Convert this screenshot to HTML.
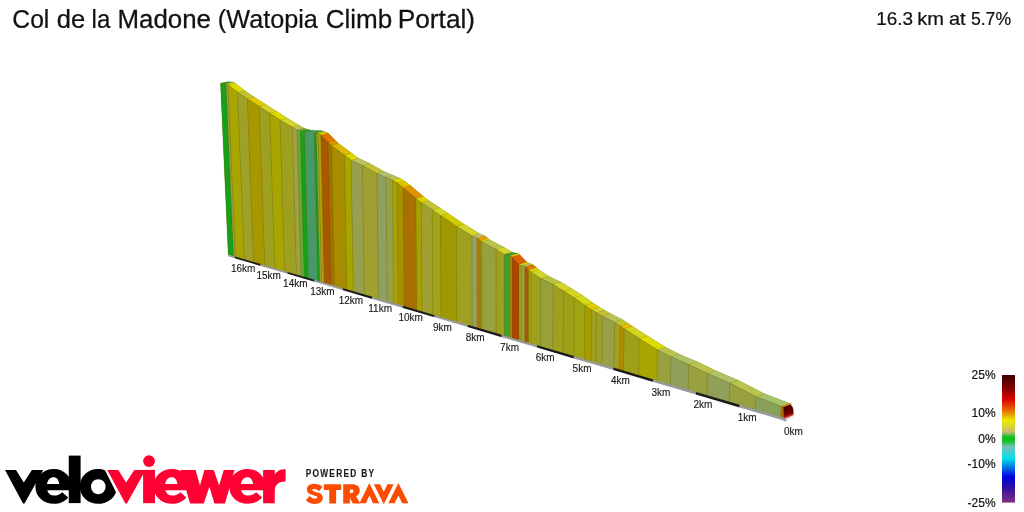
<!DOCTYPE html>
<html><head><meta charset="utf-8"><title>Col de la Madone (Watopia Climb Portal)</title>
<style>
html,body{margin:0;padding:0;background:#fff;}
body{width:1024px;height:512px;overflow:hidden;position:relative;font-family:"Liberation Sans",sans-serif;}
svg{position:absolute;left:0;top:0;will-change:transform;transform:translateZ(0);}
text{font-family:"Liberation Sans",sans-serif;}
.km text{font-size:10px;fill:#161616;stroke:#161616;stroke-width:0.12;}
.lg text{font-size:12px;fill:#111;stroke:#111;stroke-width:0.18;text-anchor:end;}
.seg polygon{stroke:rgba(60,70,0,0.24);stroke-width:0.5;stroke-linejoin:round;}
.top polygon{stroke:rgba(70,80,0,0.2);stroke-width:0.45;stroke-linejoin:round;}
</style></head><body>
<svg width="1024" height="512" viewBox="0 0 1024 512">
<defs>
<linearGradient id="lg" x1="0" y1="0" x2="0" y2="1">
<stop offset="0" stop-color="#3c0000"/>
<stop offset="0.10" stop-color="#800000"/>
<stop offset="0.19" stop-color="#dc0000"/>
<stop offset="0.28" stop-color="#e87000"/>
<stop offset="0.353" stop-color="#eaea00"/>
<stop offset="0.40" stop-color="#dcd830"/>
<stop offset="0.447" stop-color="#c8b878"/>
<stop offset="0.485" stop-color="#10c020"/>
<stop offset="0.512" stop-color="#10c020"/>
<stop offset="0.565" stop-color="#74c0bc"/>
<stop offset="0.654" stop-color="#00e0e8"/>
<stop offset="0.80" stop-color="#0000e0"/>
<stop offset="0.885" stop-color="#3010a0"/>
<stop offset="1" stop-color="#803080"/>
</linearGradient>
<linearGradient id="cap" x1="0" y1="0" x2="0.25" y2="1">
<stop offset="0" stop-color="#420000"/>
<stop offset="0.58" stop-color="#5e0000"/>
<stop offset="0.76" stop-color="#900000"/>
<stop offset="0.87" stop-color="#c02828"/>
<stop offset="1" stop-color="#f0e2e2"/>
</linearGradient>
</defs>
<g font-size="26.2" fill="#111" stroke="#111" stroke-width="0.25"><text transform="translate(12.32,27.55) scale(0.9416,1)">Col</text><text transform="translate(56.66,27.55) scale(0.9766,1)">de</text><text transform="translate(91.59,27.55) scale(0.9169,1)">la</text><text transform="translate(117.42,27.55) scale(0.9886,1)">Madone</text><text transform="translate(217.85,27.55) scale(0.9631,1)">(Watopia</text><text transform="translate(325.74,27.55) scale(0.9945,1)">Climb</text><text transform="translate(397.74,27.55) scale(1.0026,1)">Portal)</text></g>
<g font-size="17.6" fill="#111" stroke="#111" stroke-width="0.2"><text transform="translate(876.25,24.7) scale(1.078,1)">16.3</text><text transform="translate(917.26,24.7) scale(1.1407,1)">km</text><text transform="translate(948.97,24.7) scale(1.1368,1)">at</text><text transform="translate(970.9,24.7) scale(1.0018,1)">5.7%</text></g>
<g class="top">
<polygon points="220.5,83.3 226.1,83.6 228,84.7 237.6,92.2 247.4,98.9 259.25,106.4 269.75,113.25 280.1,120.1 292.4,127.25 297.1,130 300.4,131.3 304.6,132 314.3,132.5 316.5,133 318.25,133.8 320.9,134.9 328.2,142.3 331.6,145.5 344.5,155.25 351.25,160.25 362.5,165.5 377,173.6 386,177.4 392.5,180.25 397,183 403.2,187.7 416,198.6 421.4,202.75 432.25,209.9 440.5,215.5 456.6,226.4 472.1,236 477.1,238 480.5,240.75 482,242 496.1,249.5 504.3,254.4 510.2,255.75 512,256.9 519,264.5 521.4,265.6 524.9,266.7 528.6,270 531.1,272 540.6,278.5 553.1,284.5 563.5,291 574.4,297.9 585,305.4 591.5,309.75 596.45,312.6 602.4,316.1 614.5,322.25 620.1,326 624.25,328.75 639.25,338.5 657.4,349.9 671,356.8 688.75,364.4 707.5,373.5 729.75,383.1 756,396.7 781.2,406.3 783.3,407 792,404.1 789.89,403.4 764.62,393.86 738.29,380.32 715.97,370.77 697.17,361.72 679.36,354.16 665.72,347.29 647.52,335.93 632.47,326.22 628.31,323.48 622.69,319.74 610.55,313.62 604.59,310.13 599.62,307.29 593.1,302.96 582.47,295.48 571.54,288.61 561.11,282.13 548.57,276.16 539.04,269.68 536.53,267.69 532.82,264.4 529.31,263.3 526.9,262.21 519.88,254.63 518.08,253.48 512.16,252.14 503.93,247.26 489.79,239.8 488.29,238.55 484.88,235.81 479.86,233.82 464.31,224.25 448.17,213.39 439.89,207.81 429.01,200.68 423.59,196.55 410.75,185.68 404.53,180.99 400.02,178.25 393.5,175.42 384.47,171.64 369.93,163.57 358.65,158.35 351.88,153.36 338.94,143.64 335.53,140.45 328.2,133.07 325.55,131.97 323.79,131.18 321.58,130.68 311.86,130.2 307.64,129.51 304.33,128.22 299.62,125.48 287.28,118.36 276.9,111.54 266.37,104.71 254.48,97.24 244.65,90.56 235.02,83.08 233.12,81.99 227.5,81.7" fill="#b4b414" stroke="none"/>
<polygon points="220.5,83.3 227.5,81.7 233.12,81.99 226.1,83.6" fill="#18a018"/>
<polygon points="226.1,83.6 233.12,81.99 235.02,83.08 228,84.7" fill="#c3be4e"/>
<polygon points="228,84.7 235.02,83.08 244.65,90.56 237.6,92.2" fill="#dfda00"/>
<polygon points="237.6,92.2 244.65,90.56 254.48,97.24 247.4,98.9" fill="#c3c330"/>
<polygon points="247.4,98.9 254.48,97.24 266.37,104.71 259.25,106.4" fill="#dfca00"/>
<polygon points="259.25,106.4 266.37,104.71 276.9,111.54 269.75,113.25" fill="#d4d42a"/>
<polygon points="269.75,113.25 276.9,111.54 287.28,118.36 280.1,120.1" fill="#dfda00"/>
<polygon points="280.1,120.1 287.28,118.36 299.62,125.48 292.4,127.25" fill="#d4d42a"/>
<polygon points="292.4,127.25 299.62,125.48 304.33,128.22 297.1,130" fill="#c3c357"/>
<polygon points="297.1,130 304.33,128.22 307.64,129.51 300.4,131.3" fill="#68a838"/>
<polygon points="300.4,131.3 307.64,129.51 311.86,130.2 304.6,132" fill="#18a018"/>
<polygon points="304.6,132 311.86,130.2 321.58,130.68 314.3,132.5" fill="#489868"/>
<polygon points="314.3,132.5 321.58,130.68 323.79,131.18 316.5,133" fill="#18a018"/>
<polygon points="316.5,133 323.79,131.18 325.55,131.97 318.25,133.8" fill="#c3c34e"/>
<polygon points="318.25,133.8 325.55,131.97 328.2,133.07 320.9,134.9" fill="#ead400"/>
<polygon points="320.9,134.9 328.2,133.07 335.53,140.45 328.2,142.3" fill="#df7500"/>
<polygon points="328.2,142.3 335.53,140.45 338.94,143.64 331.6,145.5" fill="#df9400"/>
<polygon points="331.6,145.5 338.94,143.64 351.88,153.36 344.5,155.25" fill="#dfba00"/>
<polygon points="344.5,155.25 351.88,153.36 358.65,158.35 351.25,160.25" fill="#dfda00"/>
<polygon points="351.25,160.25 358.65,158.35 369.93,163.57 362.5,165.5" fill="#b9c361"/>
<polygon points="362.5,165.5 369.93,163.57 384.47,171.64 377,173.6" fill="#c3c33a"/>
<polygon points="377,173.6 384.47,171.64 393.5,175.42 386,177.4" fill="#afc375"/>
<polygon points="386,177.4 393.5,175.42 400.02,178.25 392.5,180.25" fill="#b9c357"/>
<polygon points="392.5,180.25 400.02,178.25 404.53,180.99 397,183" fill="#dfda00"/>
<polygon points="397,183 404.53,180.99 410.75,185.68 403.2,187.7" fill="#dfbf00"/>
<polygon points="403.2,187.7 410.75,185.68 423.59,196.55 416,198.6" fill="#df9400"/>
<polygon points="416,198.6 423.59,196.55 429.01,200.68 421.4,202.75" fill="#dfd400"/>
<polygon points="421.4,202.75 429.01,200.68 439.89,207.81 432.25,209.9" fill="#c3c33a"/>
<polygon points="432.25,209.9 439.89,207.81 448.17,213.39 440.5,215.5" fill="#d4da1f"/>
<polygon points="440.5,215.5 448.17,213.39 464.31,224.25 456.6,226.4" fill="#d4ca00"/>
<polygon points="456.6,226.4 464.31,224.25 479.86,233.82 472.1,236" fill="#d4d42a"/>
<polygon points="472.1,236 479.86,233.82 484.88,235.81 477.1,238" fill="#b9c375"/>
<polygon points="477.1,238 484.88,235.81 488.29,238.55 480.5,240.75" fill="#ea9f00"/>
<polygon points="480.5,240.75 488.29,238.55 489.79,239.8 482,242" fill="#dfd400"/>
<polygon points="482,242 489.79,239.8 503.93,247.26 496.1,249.5" fill="#b9c34e"/>
<polygon points="496.1,249.5 503.93,247.26 512.16,252.14 504.3,254.4" fill="#d4d42a"/>
<polygon points="504.3,254.4 512.16,252.14 518.08,253.48 510.2,255.75" fill="#40a030"/>
<polygon points="510.2,255.75 518.08,253.48 519.88,254.63 512,256.9" fill="#eabf00"/>
<polygon points="512,256.9 519.88,254.63 526.9,262.21 519,264.5" fill="#df5f00"/>
<polygon points="519,264.5 526.9,262.21 529.31,263.3 521.4,265.6" fill="#dfd400"/>
<polygon points="521.4,265.6 529.31,263.3 532.82,264.4 524.9,266.7" fill="#b9c361"/>
<polygon points="524.9,266.7 532.82,264.4 536.53,267.69 528.6,270" fill="#df7500"/>
<polygon points="528.6,270 536.53,267.69 539.04,269.68 531.1,272" fill="#dfd400"/>
<polygon points="531.1,272 539.04,269.68 548.57,276.16 540.6,278.5" fill="#d4d42a"/>
<polygon points="540.6,278.5 548.57,276.16 561.11,282.13 553.1,284.5" fill="#b9c344"/>
<polygon points="553.1,284.5 561.11,282.13 571.54,288.61 563.5,291" fill="#d4d42a"/>
<polygon points="563.5,291 571.54,288.61 582.47,295.48 574.4,297.9" fill="#d4d41f"/>
<polygon points="574.4,297.9 582.47,295.48 593.1,302.96 585,305.4" fill="#d4da15"/>
<polygon points="585,305.4 593.1,302.96 599.62,307.29 591.5,309.75" fill="#dfcf00"/>
<polygon points="591.5,309.75 599.62,307.29 604.59,310.13 596.45,312.6" fill="#d4d42a"/>
<polygon points="596.45,312.6 604.59,310.13 610.55,313.62 602.4,316.1" fill="#c3c330"/>
<polygon points="602.4,316.1 610.55,313.62 622.69,319.74 614.5,322.25" fill="#b9c357"/>
<polygon points="614.5,322.25 622.69,319.74 628.31,323.48 620.1,326" fill="#c3c330"/>
<polygon points="620.1,326 628.31,323.48 632.47,326.22 624.25,328.75" fill="#eaba00"/>
<polygon points="624.25,328.75 632.47,326.22 647.52,335.93 639.25,338.5" fill="#d4d41f"/>
<polygon points="639.25,338.5 647.52,335.93 665.72,347.29 657.4,349.9" fill="#dfda00"/>
<polygon points="657.4,349.9 665.72,347.29 679.36,354.16 671,356.8" fill="#b9c34e"/>
<polygon points="671,356.8 679.36,354.16 697.17,361.72 688.75,364.4" fill="#afc36b"/>
<polygon points="688.75,364.4 697.17,361.72 715.97,370.77 707.5,373.5" fill="#b9c34e"/>
<polygon points="707.5,373.5 715.97,370.77 738.29,380.32 729.75,383.1" fill="#afc36b"/>
<polygon points="729.75,383.1 738.29,380.32 764.62,393.86 756,396.7" fill="#b9c34e"/>
<polygon points="756,396.7 764.62,393.86 789.89,403.4 781.2,406.3" fill="#a5c36b"/>
<polygon points="781.2,406.3 789.89,403.4 792,404.1 783.3,407" fill="#ff8a00"/>
</g>
<g class="seg">
<polygon points="220.5,83.3 226.1,83.6 228,84.7 237.6,92.2 247.4,98.9 259.25,106.4 269.75,113.25 280.1,120.1 292.4,127.25 297.1,130 300.4,131.3 304.6,132 314.3,132.5 316.5,133 318.25,133.8 320.9,134.9 328.2,142.3 331.6,145.5 344.5,155.25 351.25,160.25 362.5,165.5 377,173.6 386,177.4 392.5,180.25 397,183 403.2,187.7 416,198.6 421.4,202.75 432.25,209.9 440.5,215.5 456.6,226.4 472.1,236 477.1,238 480.5,240.75 482,242 496.1,249.5 504.3,254.4 510.2,255.75 512,256.9 519,264.5 521.4,265.6 524.9,266.7 528.6,270 531.1,272 540.6,278.5 553.1,284.5 563.5,291 574.4,297.9 585,305.4 591.5,309.75 596.45,312.6 602.4,316.1 614.5,322.25 620.1,326 624.25,328.75 639.25,338.5 657.4,349.9 671,356.8 688.75,364.4 707.5,373.5 729.75,383.1 756,396.7 781.2,406.3 783.3,407 782.87,417.74 228.26,254.85" fill="#8c8c14" stroke="none"/>
<polygon points="220.5,83.3 226.1,83.6 233.66,256.43 228.26,254.85" fill="#18a018"/>
<polygon points="226.1,83.6 228,84.7 235.45,256.96 233.66,256.43" fill="#a09c40"/>
<polygon points="228,84.7 237.6,92.2 244.43,259.6 235.45,256.96" fill="#a8a400"/>
<polygon points="237.6,92.2 247.4,98.9 253.67,262.31 244.43,259.6" fill="#a0a028"/>
<polygon points="247.4,98.9 259.25,106.4 264.9,265.61 253.67,262.31" fill="#a89800"/>
<polygon points="259.25,106.4 269.75,113.25 274.88,268.54 264.9,265.61" fill="#a0a020"/>
<polygon points="269.75,113.25 280.1,120.1 284.75,271.44 274.88,268.54" fill="#a8a400"/>
<polygon points="280.1,120.1 292.4,127.25 296.55,274.9 284.75,271.44" fill="#a0a020"/>
<polygon points="292.4,127.25 297.1,130 301.06,276.23 296.55,274.9" fill="#a0a048"/>
<polygon points="297.1,130 300.4,131.3 304.25,277.17 301.06,276.23" fill="#68a838"/>
<polygon points="300.4,131.3 304.6,132 308.34,278.37 304.25,277.17" fill="#18a018"/>
<polygon points="304.6,132 314.3,132.5 317.81,281.15 308.34,278.37" fill="#489868"/>
<polygon points="314.3,132.5 316.5,133 319.95,281.78 317.81,281.15" fill="#18a018"/>
<polygon points="316.5,133 318.25,133.8 321.65,282.27 319.95,281.78" fill="#a0a040"/>
<polygon points="318.25,133.8 320.9,134.9 324.21,283.03 321.65,282.27" fill="#b0a000"/>
<polygon points="320.9,134.9 328.2,142.3 331.2,285.08 324.21,283.03" fill="#a85800"/>
<polygon points="328.2,142.3 331.6,145.5 334.47,286.04 331.2,285.08" fill="#a87000"/>
<polygon points="331.6,145.5 344.5,155.25 346.94,289.7 334.47,286.04" fill="#a88c00"/>
<polygon points="344.5,155.25 351.25,160.25 353.48,291.62 346.94,289.7" fill="#a8a400"/>
<polygon points="351.25,160.25 362.5,165.5 364.46,294.85 353.48,291.62" fill="#98a050"/>
<polygon points="362.5,165.5 377,173.6 378.62,299.01 364.46,294.85" fill="#a0a030"/>
<polygon points="377,173.6 386,177.4 387.45,301.6 378.62,299.01" fill="#90a060"/>
<polygon points="386,177.4 392.5,180.25 393.82,303.47 387.45,301.6" fill="#98a048"/>
<polygon points="392.5,180.25 397,183 398.24,304.77 393.82,303.47" fill="#a8a400"/>
<polygon points="397,183 403.2,187.7 404.31,306.55 398.24,304.77" fill="#a89000"/>
<polygon points="403.2,187.7 416,198.6 416.87,310.24 404.31,306.55" fill="#a87000"/>
<polygon points="416,198.6 421.4,202.75 422.18,311.8 416.87,310.24" fill="#a8a000"/>
<polygon points="421.4,202.75 432.25,209.9 432.88,314.94 422.18,311.8" fill="#a0a030"/>
<polygon points="432.25,209.9 440.5,215.5 441.02,317.34 432.88,314.94" fill="#a0a418"/>
<polygon points="440.5,215.5 456.6,226.4 456.95,322.01 441.02,317.34" fill="#a09800"/>
<polygon points="456.6,226.4 472.1,236 472.32,326.53 456.95,322.01" fill="#a0a020"/>
<polygon points="472.1,236 477.1,238 477.28,327.98 472.32,326.53" fill="#98a060"/>
<polygon points="477.1,238 480.5,240.75 480.66,328.98 477.28,327.98" fill="#b07800"/>
<polygon points="480.5,240.75 482,242 482.15,329.41 480.66,328.98" fill="#a8a000"/>
<polygon points="482,242 496.1,249.5 496.17,333.53 482.15,329.41" fill="#98a040"/>
<polygon points="496.1,249.5 504.3,254.4 504.33,335.93 496.17,333.53" fill="#a0a020"/>
<polygon points="504.3,254.4 510.2,255.75 510.21,337.65 504.33,335.93" fill="#40a030"/>
<polygon points="510.2,255.75 512,256.9 512,338.18 510.21,337.65" fill="#b09000"/>
<polygon points="512,256.9 519,264.5 518.97,340.23 512,338.18" fill="#a84800"/>
<polygon points="519,264.5 521.4,265.6 521.37,340.93 518.97,340.23" fill="#a8a000"/>
<polygon points="521.4,265.6 524.9,266.7 524.85,341.96 521.37,340.93" fill="#98a050"/>
<polygon points="524.9,266.7 528.6,270 528.54,343.04 524.85,341.96" fill="#a85800"/>
<polygon points="528.6,270 531.1,272 531.03,343.77 528.54,343.04" fill="#a8a000"/>
<polygon points="531.1,272 540.6,278.5 540.49,346.55 531.03,343.77" fill="#a0a020"/>
<polygon points="540.6,278.5 553.1,284.5 552.94,350.2 540.49,346.55" fill="#98a038"/>
<polygon points="553.1,284.5 563.5,291 563.29,353.25 552.94,350.2" fill="#a0a020"/>
<polygon points="563.5,291 574.4,297.9 574.15,356.44 563.29,353.25" fill="#a0a018"/>
<polygon points="574.4,297.9 585,305.4 584.71,359.54 574.15,356.44" fill="#a0a410"/>
<polygon points="585,305.4 591.5,309.75 591.19,361.44 584.71,359.54" fill="#a89c00"/>
<polygon points="591.5,309.75 596.45,312.6 596.12,362.89 591.19,361.44" fill="#a0a020"/>
<polygon points="596.45,312.6 602.4,316.1 602.05,364.63 596.12,362.89" fill="#a0a028"/>
<polygon points="602.4,316.1 614.5,322.25 614.11,368.17 602.05,364.63" fill="#98a048"/>
<polygon points="614.5,322.25 620.1,326 619.69,369.81 614.11,368.17" fill="#a0a028"/>
<polygon points="620.1,326 624.25,328.75 623.84,371.03 619.69,369.81" fill="#b08c00"/>
<polygon points="624.25,328.75 639.25,338.5 638.81,375.43 623.84,371.03" fill="#a0a018"/>
<polygon points="639.25,338.5 657.4,349.9 656.95,380.75 638.81,375.43" fill="#a8a400"/>
<polygon points="657.4,349.9 671,356.8 670.53,384.74 656.95,380.75" fill="#98a040"/>
<polygon points="671,356.8 688.75,364.4 688.25,389.94 670.53,384.74" fill="#90a058"/>
<polygon points="688.75,364.4 707.5,373.5 706.99,395.45 688.25,389.94" fill="#98a040"/>
<polygon points="707.5,373.5 729.75,383.1 729.23,401.98 706.99,395.45" fill="#90a058"/>
<polygon points="729.75,383.1 756,396.7 755.56,409.72 729.23,401.98" fill="#98a040"/>
<polygon points="756,396.7 781.2,406.3 780.77,417.12 755.56,409.72" fill="#88a058"/>
<polygon points="781.2,406.3 783.3,407 782.87,417.74 780.77,417.12" fill="#c06800"/>
</g>
<g>
<polygon points="228.1,254.5 234.75,256.45 234.75,258.27 228.1,256.3" fill="#9a9a9a"/>
<polygon points="234.75,256.45 260.6,264.05 260.6,265.9 234.75,258.27" fill="#1a1a1a"/>
<polygon points="260.6,264.05 287.5,271.95 287.5,273.85 260.6,265.9" fill="#9a9a9a"/>
<polygon points="287.5,271.95 314.4,279.85 314.4,281.8 287.5,273.85" fill="#1a1a1a"/>
<polygon points="314.4,279.85 343,288.25 343,290.25 314.4,281.8" fill="#9a9a9a"/>
<polygon points="343,288.25 372.25,296.84 372.25,298.9 343,290.25" fill="#1a1a1a"/>
<polygon points="372.25,296.84 402.9,305.84 402.9,307.95 372.25,298.9" fill="#9a9a9a"/>
<polygon points="402.9,305.84 434.6,315.15 434.6,317.32 402.9,307.95" fill="#1a1a1a"/>
<polygon points="434.6,315.15 467.6,324.84 467.6,327.07 434.6,317.32" fill="#9a9a9a"/>
<polygon points="467.6,324.84 501.75,334.87 501.75,337.16 467.6,327.07" fill="#1a1a1a"/>
<polygon points="501.75,334.87 537,345.22 537,347.58 501.75,337.16" fill="#9a9a9a"/>
<polygon points="537,345.22 573.9,356.06 573.9,358.48 537,347.58" fill="#1a1a1a"/>
<polygon points="573.9,356.06 613.25,367.62 613.25,370.11 573.9,358.48" fill="#9a9a9a"/>
<polygon points="613.25,367.62 653.3,379.38 653.3,381.94 613.25,370.11" fill="#1a1a1a"/>
<polygon points="653.3,379.38 695.9,391.89 695.9,394.53 653.3,381.94" fill="#9a9a9a"/>
<polygon points="695.9,391.89 739.6,404.73 739.6,407.45 695.9,394.53" fill="#1a1a1a"/>
<polygon points="739.6,404.73 783.4,417.59 783.4,420.39 739.6,407.45" fill="#9a9a9a"/>
</g>
<!-- end cap -->
<polygon points="783.2,417.6 786,418.6 786.2,421.7 783.2,420.7" fill="#9a9a9a"/>
<polygon points="786,418.6 793.6,414.4 793.7,417 786.2,421.7" fill="#e6e6e6"/>
<path d="M783.3,407 L790.4,404.4 Q793.2,406.3 793.4,410 L793.6,415 L786,419.2 L783.3,418.2 Z" fill="url(#cap)"/>
<!-- legend -->
<rect x="1002" y="375" width="13" height="127.6" fill="url(#lg)"/>
<g class="lg">
<text x="995.6" y="379">25%</text>
<text x="995.6" y="417.1">10%</text>
<text x="995.6" y="442.9">0%</text>
<text x="995.6" y="468.1">-10%</text>
<text x="995.6" y="507.2">-25%</text>
</g>
<!-- veloviewer logo -->
<g id="vv">
<!-- black: v e l o -->
<path fill="#000" fill-rule="evenodd" d="M5,469.9 L16,469.9 L23.75,482.6 L31.9,469.9 L43.2,469.9 L24.5,503.6 L23,503.6 Z"/>
<defs><path id="eb" fill-rule="evenodd" d="M53.75,469 C64,469 71.5,476.5 71.5,486.5 L71.5,490.25 L47.2,490.25 C48.2,493.6 50.6,495.6 54.2,495.6 C57.3,495.6 59.8,494.4 62.3,492.2 L68.2,497.4 C64.6,501.6 59.9,503.8 53.9,503.8 C43.2,503.8 35.4,496.4 35.4,486.5 C35.4,476.5 43.2,469 53.75,469 Z M53.6,477.3 C50.2,477.3 47.8,479.8 47,484 L59.2,484 C58.8,479.9 56.8,477.3 53.6,477.3 Z"/></defs>
<use href="#eb" fill="#000"/>
<rect x="68.75" y="455.6" width="11.85" height="47.5" fill="#000"/>
<path fill="#000" fill-rule="evenodd" d="M98.1,469 C100.6,469 103,469.5 105.2,470.4 L116,492.2 C113.5,499 106.5,503.8 98.1,503.8 C87.8,503.8 79.8,496.3 79.8,486.5 C79.8,476.5 87.8,469 98.1,469 Z M98.2,479.2 C94.1,479.2 91,482.4 91,486.6 C91,490.9 94.1,494.3 98.2,494.3 C102.4,494.3 105.6,490.9 105.6,486.6 C105.6,482.4 102.4,479.2 98.2,479.2 Z"/>
<!-- red: v i e w e r -->
<path fill="#ff0033" d="M107.25,469.9 L118.3,469.9 L126.1,482.6 L134.3,469.9 L145.6,469.9 L126.9,503.5 L125.4,503.5 Z"/>
<rect x="143.1" y="469.9" width="11.9" height="33.3" fill="#ff0033"/>
<circle cx="149" cy="461.1" r="5.9" fill="#ff0033"/>
<use href="#eb" x="118.15" y="0" fill="#ff0033"/>
<path fill="#ff0033" d="M180.5,469.9 L195.6,469.9 L200,485.5 L204.4,469.9 L213.75,469.9 L219.1,485.5 L223.75,469.9 L234.5,469.9 L225,503.4 L214.4,503.4 L209.4,486.75 L203.75,503.4 L190,503.4 Z"/>
<use href="#eb" x="193.85" y="0" fill="#ff0033"/>
<path fill="#ff0033" d="M263.1,469.9 L274.75,469.9 L274.75,474.5 C277,470.8 280.6,469.1 285.6,469.3 L285.6,481.5 C279.2,481.3 274.75,484.5 274.75,491 L274.75,503.2 L263.1,503.2 Z"/>
</g>
<!-- powered by strava -->
<text transform="translate(305.7,476.9) scale(0.86,1.14)" font-size="9.7" font-weight="bold" fill="#1c1c1c" stroke="#1c1c1c" stroke-width="0.15" textLength="79.4" lengthAdjust="spacing">POWERED BY</text>
<g fill="#fc4c02">
<!-- S -->
<path d="M315,503.9 C311.3,503.9 308,502.7 305.9,500.3 L309.6,496 C311.2,497.7 313.1,498.6 315.2,498.6 C316.6,498.6 317.3,498.1 317.3,497.3 C317.3,496.4 316.5,496 314,495.4 C310,494.4 306.9,493.2 306.9,489.5 C306.9,486.1 309.6,483.8 314.2,483.8 C317.6,483.8 320.3,484.8 322.5,486.8 L319.1,491.3 C317.6,489.8 315.7,489 314,489 C312.8,489 312.3,489.5 312.3,490.1 C312.3,491 313.2,491.4 315.7,492 C320,493 322.8,494.3 322.8,497.8 C322.8,501.5 319.7,503.9 315,503.9 Z"/>
<!-- T -->
<path d="M323.9,484.2 L341.2,484.2 L341.2,490.1 L336.1,490.1 L336.1,503.4 L329.25,503.4 L329.25,490.1 L323.9,490.1 Z"/>
<!-- R -->
<path fill-rule="evenodd" d="M343.2,484.2 L352.2,484.2 C357,484.2 359.8,486.6 359.8,490.6 C359.8,493.4 358.4,495.4 356.2,496.4 L360.4,503.4 L352.8,503.4 L349.6,497.6 L349.9,497.6 L349.9,503.4 L343.2,503.4 Z M349.9,489.6 L349.9,493 L351.6,493 C352.7,493 353.4,492.4 353.4,491.3 C353.4,490.2 352.7,489.6 351.6,489.6 Z"/>
<!-- A -->
<path d="M369.3,483.1 L379.4,503.3 L373.1,503.3 L369.3,495.4 L366,503.3 L359.5,503.3 Z"/>
<!-- V -->
<path d="M373.9,484.3 L380.1,484.3 L383.8,492 L387.4,484.3 L393.7,484.3 L383.8,504.2 Z"/>
<!-- A -->
<path d="M398.4,483.1 L408.5,503.3 L402.2,503.3 L398.4,495.4 L394.6,503.3 L388.3,503.3 Z"/>
</g>

<g class="km">
<text x="231" y="272.2">16km</text>
<text x="256.5" y="279.1">15km</text>
<text x="283.1" y="287.2">14km</text>
<text x="310.25" y="295.3">13km</text>
<text x="338.75" y="304.45">12km</text>
<text x="368.25" y="312.3">11km</text>
<text x="398.5" y="321.3">10km</text>
<text x="433" y="331.2">9km</text>
<text x="465.75" y="341.2">8km</text>
<text x="500.1" y="351.2">7km</text>
<text x="535.75" y="361.1">6km</text>
<text x="572.6" y="371.95">5km</text>
<text x="611" y="384.1">4km</text>
<text x="651.5" y="396.1">3km</text>
<text x="693.4" y="408.2">2km</text>
<text x="737.75" y="421.1">1km</text>
<text x="783.9" y="435.1">0km</text>
</g>
</svg>
</body></html>
